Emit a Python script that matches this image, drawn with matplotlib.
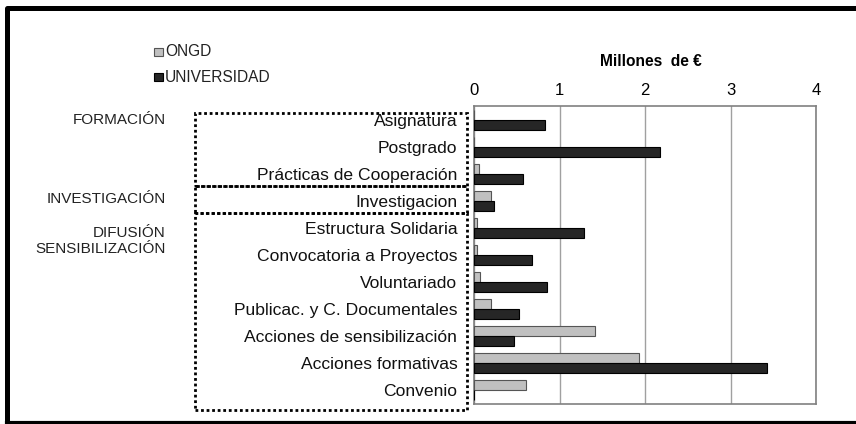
import numpy as np
import matplotlib
matplotlib.use("Agg")
import matplotlib.pyplot as plt
from matplotlib.patches import Rectangle
from matplotlib.lines import Line2D

plt.rcParams['font.family'] = ['Liberation Sans', 'DejaVu Sans']

# data (millions of euros)
categories = ["Asignatura", "Postgrado", "Prácticas de Cooperación", "Investigacion",
              "Estructura Solidaria", "Convocatoria a Proyectos", "Voluntariado",
              "Publicac. y C. Documentales", "Acciones de sensibilización",
              "Acciones formativas", "Convenio"]
ongd = [0, 0, 0.06, 0.20, 0.035, 0.035, 0.07, 0.20, 1.41, 1.93, 0.61]
universidad = [0.83, 2.18, 0.57, 0.23, 1.29, 0.68, 0.85, 0.53, 0.47, 3.43, 0]
x_ticks = [0, 1, 2, 3, 4]
groups = ["FORMACIÓN", "INVESTIGACIÓN", "DIFUSIÓN\nSENSIBILIZACIÓN"]

W, H = 856, 424
fig = plt.figure(figsize=(W / 100, H / 100), dpi=100)
ax = fig.add_axes([474 / W, 1 - 404 / H, (816 - 474) / W, (404 - 106) / H])

y = np.arange(len(categories))
h = 0.37
ax.barh(y - h / 2, ongd, height=h, color="#c0c0c0", edgecolor="#555555", linewidth=0.8,
        label="ONGD", zorder=3)
ax.barh(y + h / 2, universidad, height=h, color="#262626", edgecolor="#000000", linewidth=0.8,
        label="UNIVERSIDAD", zorder=3)

ax.set_xlim(0, 4)
ax.set_ylim(len(categories) - 0.5, -0.5)
ax.set_xticks(x_ticks)
ax.xaxis.tick_top()
ax.tick_params(axis="x", length=0, pad=6, labelsize=12)
ax.set_yticks(y)
ax.set_yticklabels(categories, fontsize=12.6, color="#111111")
ax.tick_params(axis="y", length=0, pad=12)
ax.grid(axis="x", color="#a0a0a0", linewidth=1, zorder=0)
for s in ax.spines.values():
    s.set_color("#808080")
    s.set_linewidth(1.2)

fig.text(651 / W, 1 - 62 / H, "Millones  de €", ha="center", va="center",
         fontsize=11.2, fontweight="bold")

# legend
for lab, col, ec, yy in [("ONGD", "#c0c0c0", "#555555", 52), ("UNIVERSIDAD", "#262626", "#000000", 77)]:
    fig.patches.append(Rectangle((154 / W, 1 - (yy + 4) / H), 9 / W, 8 / H, facecolor=col,
                                 edgecolor=ec, linewidth=0.8, transform=fig.transFigure))
    fig.text(165 / W, 1 - yy / H, lab, ha="left", va="center", fontsize=11.2, color="#222222")

# group labels on the left
for g, yy in zip(groups, [120, 199, 241]):
    fig.text(166 / W, 1 - yy / H, g, ha="right", va="center", fontsize=11,
             color="#222222", linespacing=1.25)

# dotted boxes around the category groups
for top, bot in [(113, 186), (186, 213), (213, 410)]:
    fig.patches.append(Rectangle((195 / W, 1 - bot / H), (467 - 195) / W, (bot - top) / H,
                                 fill=False, edgecolor="black", linestyle=(0, (1, 1)),
                                 linewidth=2, transform=fig.transFigure))

# outer frame
fig.lines.append(Line2D([7.5 / W, 7.5 / W, 1], [0, 1 - 8 / H, 1 - 8 / H], color="black",
                        linewidth=3.6, transform=fig.transFigure))
fig.lines.append(Line2D([7.5 / W, 1], [1.5 / H, 1.5 / H], color="black",
                        linewidth=3, transform=fig.transFigure))

fig.savefig("out.png", dpi=100)
